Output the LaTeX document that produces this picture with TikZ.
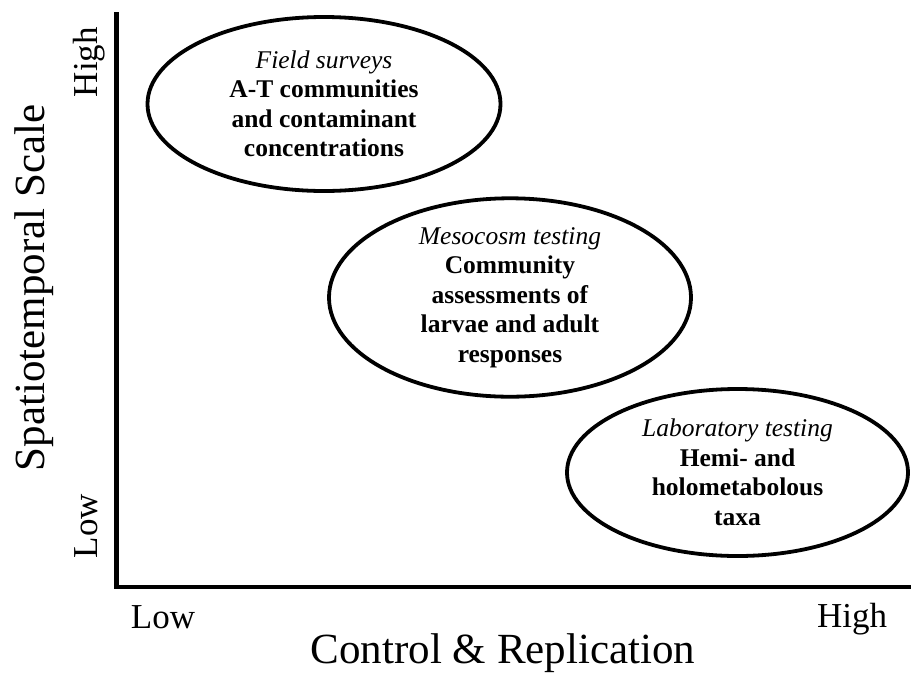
\documentclass[tikz,border=0pt]{standalone}
\usepackage{fontspec}
\setmainfont{Liberation Serif}
\usepackage{tikz}
\usetikzlibrary{shapes.geometric}

\begin{document}
\begin{tikzpicture}[x=1pt, y=-1pt,
    study/.style={ellipse, draw, line width=3.8pt, inner sep=0pt, align=center,
        font=\fontsize{25.5}{29.5}\selectfont},
    tick/.style={font=\fontsize{35}{40}\selectfont, inner sep=0pt, anchor=base},
    axislabel/.style={font=\fontsize{43}{48}\selectfont, inner sep=0pt, anchor=base}]
    \useasboundingbox (0,0) rectangle (911,673);
    % Axes
    \coordinate (ytop) at (116.5,12);
    \coordinate (origin) at (116.5,587);
    \coordinate (xend) at (911,587);
    \draw[line width=4.6pt, line join=miter] (ytop) -- (origin) -- (xend);
    % Axis labels
    \node[axislabel, rotate=90] (ylabel) at (45,288) {Spatiotemporal Scale};
    \node[axislabel] (xlabel) at (503,663) {Control \& Replication};
    \node[tick, rotate=90] (yhigh) at (97,62) {High};
    \node[tick, rotate=90] (ylow) at (97,526) {Low};
    \node[tick] (xlow) at (163,628) {Low};
    \node[tick] (xhigh) at (852,627) {High};
    % Study types
    \node[study, minimum width=353, minimum height=174] (field) at (324,104)
        {\textit{Field surveys}\\ \textbf{A-T communities}\\ \textbf{and contaminant}\\ \textbf{concentrations}};
    \node[study, minimum width=362, minimum height=177] (meso) at (510,297.5)
        {\textit{Mesocosm testing}\\ \textbf{Community}\\ \textbf{assessments of}\\ \textbf{larvae and adult}\\ \textbf{responses}};
    \node[study, minimum width=341, minimum height=167] (lab) at (737.5,472.5)
        {\textit{Laboratory testing}\\ \textbf{Hemi- and}\\ \textbf{holometabolous}\\ \textbf{taxa}};
\end{tikzpicture}
\end{document}
